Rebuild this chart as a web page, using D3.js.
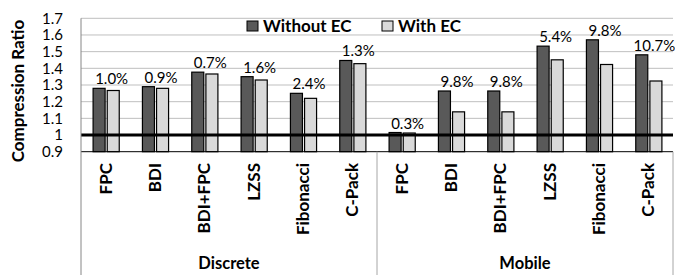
<!DOCTYPE html>
<html>
<head>
<meta charset="utf-8">
<script src="https://d3js.org/d3.v7.min.js"></script>
<style>
  body { margin: 0; background: #fff; }
  text { font-family: Lato, "Open Sans", sans-serif; fill: #000; }
</style>
</head>
<body>
<svg id="chart" width="675" height="275"></svg>
<script>
  // categories and series
  var groups = ["Discrete", "Mobile"];
  var schemes = ["FPC", "BDI", "BDI+FPC", "LZSS", "Fibonacci", "C-Pack"];
  var series = ["Without EC", "With EC"];
  var withoutEC = [1.28, 1.29, 1.377, 1.35, 1.25, 1.447, 1.015, 1.264, 1.264, 1.533, 1.571, 1.481];
  var withEC = [1.267, 1.28, 1.366, 1.33, 1.22, 1.428, 1.012, 1.139, 1.139, 1.451, 1.423, 1.324];
  var diffLabels = ["1.0%", "0.9%", "0.7%", "1.6%", "2.4%", "1.3%", "0.3%", "9.8%", "9.8%", "5.4%", "9.8%", "10.7%"];
  var yTicks = [0.9, 1, 1.1, 1.2, 1.3, 1.4, 1.5, 1.6, 1.7];
  var colors = ["#595959", "#d9d9d9"];

  var svg = d3.select("#chart");
  var plotLeft = 81, plotRight = 673, plotTop = 18.3, plotBottom = 151.7;

  var keys = [];
  groups.forEach(function(g) {
    schemes.forEach(function(s) { keys.push(g + "|" + s); });
  });

  var x0 = d3.scaleBand().domain(keys).range([plotLeft, plotRight])
    .paddingInner(0.47).paddingOuter(0.235);
  var x1 = d3.scaleBand().domain(series).range([0, x0.bandwidth()]).paddingInner(0.15);
  var y = d3.scaleLinear().domain([0.9, 1.7]).range([plotBottom, plotTop]);

  var step = x0.step();

  // gridlines
  svg.append("g").selectAll("line")
    .data(yTicks.filter(function(d) { return d > 1; }))
    .enter().append("line")
    .attr("x1", plotLeft).attr("x2", plotRight)
    .attr("y1", function(d) { return y(d); })
    .attr("y2", function(d) { return y(d); })
    .attr("stroke", "#bfbfbf").attr("stroke-width", 1);

  // y tick labels
  svg.append("g").selectAll("text")
    .data(yTicks)
    .enter().append("text")
    .attr("x", 63)
    .attr("y", function(d) { return y(d); })
    .attr("dy", "0.35em")
    .attr("text-anchor", "end")
    .style("font-size", "15px")
    .text(function(d) { return d === 1 ? "1" : d3.format(".1f")(d); });

  // axis title
  svg.append("text")
    .attr("transform", "translate(24," + ((plotTop + plotBottom) / 2 + 6) + ") rotate(-90)")
    .attr("text-anchor", "middle")
    .style("font-size", "17px").style("font-weight", "bold")
    .text("Compression Ratio");

  // bars
  var rows = keys.map(function(k, i) {
    return { key: k, vals: [withoutEC[i], withEC[i]], label: diffLabels[i] };
  });

  var cat = svg.append("g").selectAll("g")
    .data(rows)
    .enter().append("g")
    .attr("transform", function(d) { return "translate(" + x0(d.key) + ",0)"; });

  cat.selectAll("rect")
    .data(function(d) { return d.vals.map(function(v, j) { return { s: series[j], v: v, j: j }; }); })
    .enter().append("rect")
    .attr("x", function(d) { return x1(d.s) + 0.5; })
    .attr("y", function(d) { return y(d.v); })
    .attr("width", x1.bandwidth())
    .attr("height", function(d) { return y(0.9) - y(d.v); })
    .attr("fill", function(d) { return colors[d.j]; })
    .attr("stroke", "#000").attr("stroke-width", 1.2);

  // percent labels
  cat.append("text")
    .attr("x", x0.bandwidth() / 2 + 6)
    .attr("y", function(d) { return y(d.vals[0]) - 4; })
    .attr("text-anchor", "middle")
    .style("font-size", "15px")
    .text(function(d) { return d.label; });

  // baseline at 1.0 and bottom line
  svg.append("line")
    .attr("x1", plotLeft).attr("x2", plotRight)
    .attr("y1", y(1)).attr("y2", y(1))
    .attr("stroke", "#000").attr("stroke-width", 3);
  svg.append("line")
    .attr("x1", plotLeft).attr("x2", plotRight)
    .attr("y1", y(0.9)).attr("y2", y(0.9))
    .attr("stroke", "#000").attr("stroke-width", 1);

  // separators
  svg.append("line")
    .attr("x1", plotLeft).attr("x2", plotLeft).attr("y1", plotTop).attr("y2", 275)
    .attr("stroke", "#868686").attr("stroke-width", 1);
  [plotLeft + 6 * step, plotRight].forEach(function(xp) {
    svg.append("line")
      .attr("x1", xp).attr("x2", xp).attr("y1", plotBottom).attr("y2", 275)
      .attr("stroke", "#a6a6a6").attr("stroke-width", 1);
  });

  // category labels
  svg.append("g").selectAll("text")
    .data(rows)
    .enter().append("text")
    .attr("transform", function(d) {
      return "translate(" + (x0(d.key) + x0.bandwidth() / 2 + 6) + ",163) rotate(-90)";
    })
    .attr("text-anchor", "end")
    .style("font-size", "17px").style("font-weight", "bold")
    .text(function(d) { return d.key.split("|")[1]; });

  // group labels
  svg.append("g").selectAll("text")
    .data(groups)
    .enter().append("text")
    .attr("x", function(d, i) { return plotLeft + step * (3 + 6 * i); })
    .attr("y", 269)
    .attr("text-anchor", "middle")
    .style("font-size", "16.5px").style("font-weight", "bold")
    .text(function(d) { return d; });

  // legend
  var legX = [247, 382];
  var leg = svg.append("g").selectAll("g")
    .data(series)
    .enter().append("g")
    .attr("transform", function(d, i) { return "translate(" + legX[i] + ",21)"; });
  leg.append("rect")
    .attr("width", 11).attr("height", 10)
    .attr("fill", function(d, i) { return colors[i]; })
    .attr("stroke", "#000").attr("stroke-width", 1);
  leg.append("text")
    .attr("x", 16).attr("y", 10.5)
    .style("font-size", "17px").style("font-weight", "bold")
    .text(function(d) { return d; });
</script>
</body>
</html>
